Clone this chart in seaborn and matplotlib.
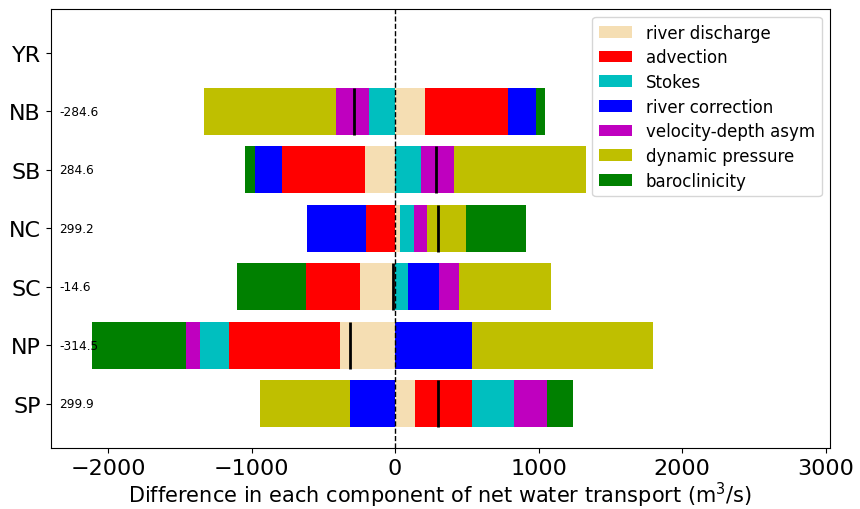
import numpy as np
import pandas as pd
import seaborn as sns
import matplotlib
matplotlib.use('Agg')
import matplotlib.pyplot as plt

# Regions (top to bottom) and the net transport difference printed next to each bar.
regions = ['YR', 'NB', 'SB', 'NC', 'SC', 'NP', 'SP']
net_labels = ['', '-284.6', '284.6', '299.2', '-14.6', '-314.5', '299.9']
net_values = [np.nan, -284.6, 284.6, 299.2, -14.6, -314.5, 299.9]

# Components of the difference in net water transport (m3/s).
components = ['river discharge', 'advection', 'Stokes', 'river correction',
              'velocity-depth asym', 'dynamic pressure', 'baroclinicity']
river_discharge = [0, 208, -208, 35, -243, -382, 140]
advection = [0, 577, -577, -201, -378, -773, 397]
stokes = [0, -181, 181, 97, 91, -202, 292]
river_correction = [0, 194, -194, -411, 216, 537, -313]
vel_depth_asym = [0, -230, 230, 91, 139, -100, 230]
dynamic_pressure = [0, -921.6, 921.6, 272, 638.4, 1260, -627]
baroclinicity = [0, 69, -69, 416.2, -478, -654.5, 180.9]

colors = ['wheat', 'r', 'c', 'b', 'm', 'y', 'g']

series = [river_discharge, advection, stokes, river_correction,
          vel_depth_asym, dynamic_pressure, baroclinicity]

fig, ax = plt.subplots(figsize=(8.6, 5.1), dpi=100)

# Stack positive parts to the right of zero and negative parts to the left.
pos_base = np.zeros(len(regions))
neg_base = np.zeros(len(regions))
for name, vals, col in zip(components, series, colors):
    vals = np.array(vals, dtype=float)
    left = np.where(vals >= 0, pos_base, neg_base)
    df = pd.DataFrame({'region': regions, 'value': vals})
    sns.barplot(data=df, x='value', y='region', order=regions, orient='y',
                color=col, saturation=1, errorbar=None, width=0.8,
                left=left, linewidth=0, edgecolor='none', label=name, ax=ax)
    pos_base += np.where(vals >= 0, vals, 0)
    neg_base += np.where(vals < 0, vals, 0)

# Net value marker and text for each region.
for i, (net, txt) in enumerate(zip(net_values, net_labels)):
    if np.isnan(net):
        continue
    ax.vlines(net, i - 0.4, i + 0.4, color='k', linewidth=2, zorder=3)
    ax.text(-2340, i, txt, fontsize=8.7, ha='left', va='center', zorder=4)

ax.axvline(0, color='k', linestyle='--', linewidth=1)

ax.set_xlim(-2400, 3030)
ax.set_ylim(6.75, -0.75)
ax.set_ylabel('')
ax.set_xlabel('Difference in each component of net water transport (m$^3$/s)',
              fontsize=15, labelpad=2)
ax.tick_params(axis='both', labelsize=16)
ax.legend(loc='upper right', fontsize=12, labelspacing=0.4)

plt.subplots_adjust(left=0.059, right=0.965, top=0.981, bottom=0.12)
plt.savefig('out.png', dpi=100)
